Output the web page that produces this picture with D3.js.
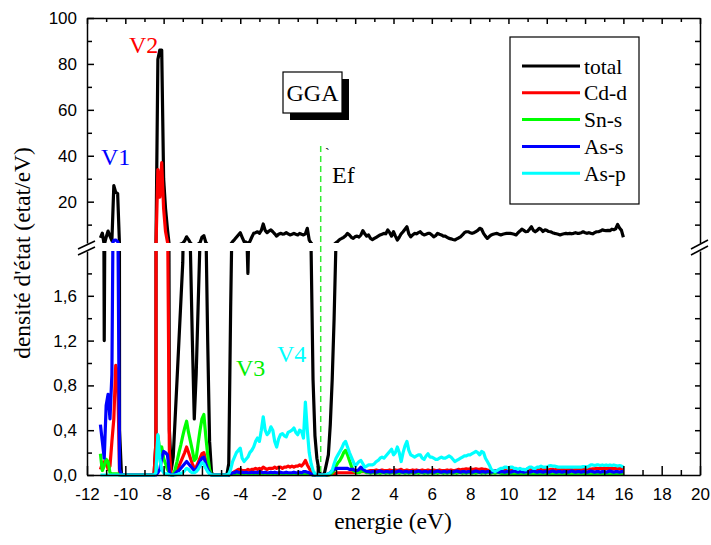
<!DOCTYPE html>
<html>
<head>
<meta charset="utf-8">
<script src="https://cdnjs.cloudflare.com/ajax/libs/d3/7.8.5/d3.min.js"></script>
<style>
  body { margin: 0; background: #fff; }
</style>
</head>
<body>
<div id="plot"></div>
<script>
// DOS data, energy grid from -11.3 to 16.0 eV (step 0.1)
const energy = d3.range(274).map(i => Math.round((-11.3 + i * 0.1) * 10) / 10);

const total = [
  4.2, 6.3, 1.2, 4.5, 7.2, 5.0, 3.0, 27, 24, 23.5,
  0.4, 0, 0, 0, 0, 0, 0, 0, 0, 0,
  0, 0, 0, 0, 0, 0, 0, 0, 0, 0.3,
  82, 86, 86, 30, 17, 8, 0.4, 0.05, 0.16, 0.5,
  0.85, 1.2, 1.55, 1.9, 3.0, 4.7, 3.5, 2.0, 1.2, 0.5,
  0.9, 1.5, 2.1, 4.5, 5.2, 2.3, 1.2, 0.3, 0.02, 0,
  0, 0, 0, 0, 0, 0, 0, 0.1, 1.5, 2.6,
  3.5, 4.5, 5.5, 6.5, 4.5, 2.6, 2.4, 1.8, 2.6, 4.5,
  6.2, 6.5, 6.9, 6.2, 7.5, 10.3, 7.5, 6.5, 7.2, 7.7,
  6.9, 6.0, 5.0, 5.8, 6.2, 5.9, 6.0, 6.5, 6.0, 5.5,
  5.8, 6.2, 5.8, 5.5, 6.2, 5.8, 5.5, 6.0, 8.4, 3.3,
  2.0, 0.85, 0.35, 0.15, 0.05, 0, 0, 0.02, 0.1, 0.18,
  0.45, 0.85, 1.4, 2.1, 2.8, 3.6, 4.0, 4.5, 5.2, 6.2,
  5.5, 4.5, 4.0, 4.8, 5.0, 4.6, 5.5, 7.4, 6.0, 5.0,
  5.5, 4.0, 3.5, 4.0, 4.5, 5.0, 5.5, 5.8, 6.2, 6.0,
  7.7, 6.5, 5.0, 6.9, 5.0, 3.3, 4.5, 6.0, 6.9, 8.0,
  9.1, 6.0, 4.7, 5.5, 6.2, 6.0, 6.5, 6.9, 6.0, 5.5,
  5.8, 6.2, 6.2, 5.5, 4.7, 5.2, 6.2, 5.8, 5.5, 5.0,
  5.0, 4.5, 4.0, 3.8, 3.5, 3.3, 3.8, 4.2, 4.7, 5.5,
  6.5, 6.9, 6.9, 6.5, 6.2, 6.5, 7.0, 7.5, 8.4, 8.0,
  6.2, 5.0, 4.0, 4.8, 5.5, 5.8, 6.0, 6.2, 5.8, 5.5,
  5.8, 6.0, 6.2, 6.2, 6.2, 6.0, 5.8, 5.5, 6.5, 7.2,
  8.0, 7.5, 6.9, 7.0, 8.0, 9.1, 7.5, 6.9, 7.5, 8.4,
  8.0, 7.0, 7.7, 7.5, 7.0, 6.9, 6.5, 6.2, 6.0, 5.8,
  5.5, 5.8, 6.0, 6.2, 6.0, 6.2, 6.0, 6.2, 6.5, 6.2,
  6.2, 6.5, 6.9, 6.5, 6.2, 6.5, 6.2, 6.0, 6.5, 6.9,
  6.9, 7.2, 7.7, 7.5, 7.4, 7.5, 7.4, 8.0, 7.8, 8.2,
  10.1, 8.5, 7.5, 4.5
];

const cdD = [
  0.05, 0.1, 0.12, 0.12, 0.05, 0.08, 0.3, 0.5, 0.98, 0.9,
  0, 0, 0, 0, 0, 0, 0, 0, 0, 0,
  0, 0, 0, 0, 0, 0, 0, 0, 0, 0.3,
  34, 22, 37, 17, 7, 2.5, 0.2, 0, 0, 0.02,
  0.05, 0.08, 0.12, 0.16, 0.2, 0.25, 0.2, 0.15, 0.1, 0.06,
  0.07, 0.11, 0.15, 0.19, 0.2, 0.13, 0.07, 0.02, 0, 0,
  0, 0, 0, 0, 0, 0, 0, 0, 0.01, 0.02,
  0.03, 0.04, 0.05, 0.05, 0.04, 0.04, 0.04, 0.05, 0.04, 0.05,
  0.05, 0.06, 0.05, 0.06, 0.05, 0.07, 0.06, 0.05, 0.06, 0.06,
  0.06, 0.07, 0.06, 0.07, 0.07, 0.06, 0.07, 0.07, 0.08, 0.07,
  0.08, 0.07, 0.08, 0.08, 0.09, 0.08, 0.1, 0.13, 0.09, 0.06,
  0.03, 0.01, 0, 0, 0, 0, 0, 0, 0, 0,
  0.005, 0.01, 0.01, 0.015, 0.02, 0.02, 0.02, 0.02, 0.02, 0.02,
  0.02, 0.02, 0.02, 0.02, 0.02, 0.03, 0.03, 0.03, 0.03, 0.03,
  0.035, 0.04, 0.04, 0.04, 0.045, 0.04, 0.04, 0.045, 0.04, 0.04,
  0.04, 0.045, 0.04, 0.04, 0.045, 0.04, 0.045, 0.05, 0.04, 0.04,
  0.045, 0.04, 0.04, 0.045, 0.04, 0.045, 0.04, 0.04, 0.045, 0.04,
  0.04, 0.045, 0.04, 0.04, 0.045, 0.04, 0.04, 0.045, 0.04, 0.04,
  0.04, 0.045, 0.04, 0.045, 0.04, 0.04, 0.045, 0.05, 0.045, 0.05,
  0.05, 0.055, 0.05, 0.055, 0.05, 0.05, 0.055, 0.05, 0.05, 0.055,
  0.05, 0.05, 0.045, 0.04, 0.035, 0.03, 0.035, 0.04, 0.04, 0.045,
  0.04, 0.045, 0.04, 0.045, 0.045, 0.04, 0.045, 0.045, 0.04, 0.045,
  0.045, 0.04, 0.045, 0.05, 0.045, 0.05, 0.045, 0.045, 0.05, 0.045,
  0.05, 0.045, 0.05, 0.05, 0.045, 0.05, 0.05, 0.045, 0.05, 0.05,
  0.045, 0.05, 0.05, 0.045, 0.05, 0.05, 0.05, 0.045, 0.05, 0.05,
  0.05, 0.05, 0.055, 0.05, 0.055, 0.055, 0.05, 0.055, 0.055, 0.06,
  0.055, 0.06, 0.055, 0.06, 0.06, 0.055, 0.06, 0.06, 0.055, 0.06,
  0.06, 0.055, 0.06, 0.05
];

const snS = [
  0.19, 0.04, 0.08, 0.14, 0.12, 0.02, 0.01, 0.01, 0.01, 0.01,
  0, 0, 0, 0, 0, 0, 0, 0, 0, 0,
  0, 0, 0, 0, 0, 0, 0, 0, 0, 0.02,
  0.35, 0.22, 0.25, 0.15, 0.1, 0.05, 0.02, 0, 0, 0.05,
  0.12, 0.2, 0.27, 0.35, 0.42, 0.48, 0.38, 0.3, 0.22, 0.13,
  0.15, 0.28, 0.4, 0.5, 0.54, 0.35, 0.18, 0.05, 0, 0,
  0, 0, 0, 0, 0, 0, 0, 0, 0.005, 0.005,
  0.005, 0.01, 0.005, 0.01, 0.005, 0.005, 0.01, 0.005, 0.01, 0.005,
  0.01, 0.005, 0.01, 0.005, 0.01, 0.01, 0.005, 0.01, 0.005, 0.01,
  0.005, 0.01, 0.005, 0.01, 0.005, 0.005, 0.01, 0.005, 0.01, 0.005,
  0.01, 0.005, 0.01, 0.005, 0.01, 0.01, 0.01, 0.01, 0.005, 0.005,
  0.005, 0, 0, 0, 0, 0, 0, 0, 0, 0,
  0.005, 0.02, 0.04, 0.08, 0.11, 0.13, 0.16, 0.2, 0.22, 0.18,
  0.13, 0.08, 0.04, 0.03, 0.02, 0.02, 0.03, 0.04, 0.03, 0.02,
  0.02, 0.015, 0.02, 0.02, 0.015, 0.02, 0.015, 0.02, 0.02, 0.015,
  0.02, 0.015, 0.02, 0.02, 0.015, 0.02, 0.015, 0.02, 0.02, 0.015,
  0.02, 0.015, 0.02, 0.02, 0.015, 0.02, 0.015, 0.02, 0.02, 0.015,
  0.02, 0.015, 0.02, 0.02, 0.015, 0.02, 0.015, 0.02, 0.02, 0.015,
  0.02, 0.015, 0.02, 0.02, 0.015, 0.02, 0.015, 0.02, 0.02, 0.015,
  0.02, 0.015, 0.02, 0.02, 0.015, 0.02, 0.015, 0.02, 0.02, 0.015,
  0.02, 0.015, 0.02, 0.02, 0.015, 0.02, 0.015, 0.02, 0.02, 0.015,
  0.01, 0.012, 0.01, 0.008, 0.01, 0.012, 0.01, 0.01, 0.008, 0.01,
  0.01, 0.012, 0.01, 0.008, 0.01, 0.012, 0.01, 0.01, 0.008, 0.01,
  0.01, 0.012, 0.01, 0.008, 0.01, 0.012, 0.01, 0.01, 0.008, 0.01,
  0.01, 0.012, 0.01, 0.008, 0.01, 0.012, 0.01, 0.01, 0.008, 0.01,
  0.01, 0.012, 0.01, 0.008, 0.01, 0.012, 0.01, 0.01, 0.008, 0.01,
  0.01, 0.012, 0.01, 0.008, 0.01, 0.012, 0.01, 0.01, 0.008, 0.01,
  0.01, 0.012, 0.01, 0.008
];

const asS = [
  0.45, 0.3, 0.15, 0.62, 0.72, 0.5, 0.9, 3.2, 3.3, 2.6,
  0.05, 0, 0, 0, 0, 0, 0, 0, 0, 0,
  0, 0, 0, 0, 0, 0, 0, 0, 0, 0,
  0.02, 0.05, 0.15, 0.21, 0.2, 0.18, 0.02, 0, 0, 0.01,
  0.03, 0.04, 0.06, 0.08, 0.1, 0.12, 0.1, 0.08, 0.06, 0.04,
  0.05, 0.08, 0.12, 0.15, 0.16, 0.1, 0.05, 0.02, 0, 0,
  0, 0, 0, 0, 0, 0, 0, 0, 0.01, 0.02,
  0.02, 0.03, 0.025, 0.02, 0.025, 0.02, 0.025, 0.02, 0.02, 0.025,
  0.02, 0.025, 0.02, 0.03, 0.025, 0.02, 0.025, 0.02, 0.02, 0.025,
  0.02, 0.025, 0.02, 0.02, 0.025, 0.02, 0.02, 0.025, 0.02, 0.02,
  0.02, 0.025, 0.02, 0.02, 0.025, 0.02, 0.03, 0.03, 0.025, 0.02,
  0.01, 0, 0, 0, 0, 0, 0, 0, 0, 0.01,
  0.02, 0.04, 0.05, 0.06, 0.06, 0.06, 0.06, 0.06, 0.06, 0.06,
  0.05, 0.05, 0.05, 0.04, 0.04, 0.05, 0.07, 0.05, 0.04, 0.03,
  0.03, 0.025, 0.03, 0.03, 0.025, 0.03, 0.035, 0.03, 0.025, 0.03,
  0.03, 0.025, 0.03, 0.03, 0.025, 0.03, 0.035, 0.03, 0.025, 0.03,
  0.03, 0.025, 0.03, 0.03, 0.025, 0.03, 0.035, 0.03, 0.025, 0.03,
  0.03, 0.025, 0.03, 0.03, 0.025, 0.03, 0.035, 0.03, 0.025, 0.03,
  0.03, 0.025, 0.03, 0.03, 0.025, 0.03, 0.035, 0.03, 0.025, 0.03,
  0.03, 0.025, 0.03, 0.03, 0.025, 0.03, 0.035, 0.03, 0.025, 0.03,
  0.03, 0.025, 0.03, 0.03, 0.025, 0.03, 0.035, 0.03, 0.025, 0.03,
  0.03, 0.025, 0.03, 0.03, 0.025, 0.03, 0.035, 0.03, 0.025, 0.03,
  0.03, 0.025, 0.03, 0.03, 0.025, 0.03, 0.035, 0.03, 0.025, 0.03,
  0.03, 0.025, 0.03, 0.03, 0.025, 0.03, 0.035, 0.03, 0.025, 0.03,
  0.03, 0.025, 0.03, 0.03, 0.025, 0.03, 0.035, 0.03, 0.025, 0.03,
  0.03, 0.025, 0.03, 0.03, 0.025, 0.03, 0.035, 0.03, 0.025, 0.03,
  0.03, 0.025, 0.03, 0.03, 0.025, 0.03, 0.035, 0.03, 0.025, 0.03,
  0.03, 0.025, 0.03, 0.03
];

const asP = [
  0, 0, 0, 0, 0, 0, 0, 0, 0, 0,
  0, 0, 0, 0, 0, 0, 0, 0, 0, 0,
  0, 0, 0, 0, 0, 0, 0, 0, 0, 0.02,
  0.36, 0.15, 0.05, 0.02, 0.01, 0.01, 0, 0, 0, 0,
  0.005, 0.01, 0.015, 0.02, 0.04, 0.06, 0.05, 0.03, 0.02, 0.02,
  0.03, 0.05, 0.08, 0.11, 0.1, 0.06, 0.03, 0.01, 0, 0,
  0, 0, 0, 0, 0, 0, 0, 0.01, 0.05, 0.12,
  0.16, 0.2, 0.22, 0.24, 0.15, 0.12, 0.14, 0.16, 0.2, 0.22,
  0.25, 0.3, 0.33, 0.3, 0.4, 0.52, 0.4, 0.36, 0.38, 0.43,
  0.4, 0.3, 0.25, 0.32, 0.36, 0.37, 0.35, 0.34, 0.38, 0.39,
  0.4, 0.42, 0.38, 0.36, 0.4, 0.39, 0.33, 0.65, 0.4, 0.2,
  0.1, 0.04, 0.01, 0, 0, 0, 0, 0, 0.005, 0.01,
  0.02, 0.04, 0.1, 0.15, 0.18, 0.21, 0.24, 0.28, 0.3, 0.25,
  0.2, 0.16, 0.12, 0.08, 0.1, 0.12, 0.13, 0.1, 0.07, 0.08,
  0.09, 0.09, 0.09, 0.1, 0.12, 0.13, 0.15, 0.16, 0.15, 0.17,
  0.19, 0.21, 0.23, 0.18, 0.2, 0.25, 0.2, 0.12, 0.2, 0.26,
  0.3, 0.22, 0.18, 0.17, 0.16, 0.17, 0.18, 0.18, 0.15, 0.14,
  0.17, 0.19, 0.16, 0.16, 0.15, 0.14, 0.14, 0.15, 0.16, 0.15,
  0.15, 0.16, 0.17, 0.16, 0.14, 0.12, 0.13, 0.14, 0.15, 0.16,
  0.17, 0.17, 0.18, 0.18, 0.19, 0.2, 0.21, 0.2, 0.18, 0.21,
  0.2, 0.15, 0.12, 0.09, 0.05, 0.04, 0.03, 0.04, 0.05, 0.06,
  0.06, 0.07, 0.07, 0.06, 0.07, 0.07, 0.06, 0.06, 0.05, 0.06,
  0.05, 0.05, 0.045, 0.06, 0.07, 0.07, 0.06, 0.06, 0.07, 0.07,
  0.08, 0.07, 0.07, 0.07, 0.08, 0.085, 0.08, 0.08, 0.075, 0.07,
  0.07, 0.07, 0.07, 0.07, 0.07, 0.07, 0.07, 0.07, 0.07, 0.07,
  0.07, 0.07, 0.075, 0.075, 0.07, 0.08, 0.09, 0.09, 0.085, 0.09,
  0.09, 0.085, 0.09, 0.085, 0.09, 0.085, 0.09, 0.085, 0.09, 0.085,
  0.08, 0.085, 0.08, 0.07
];

const seriesNames = ["total", "Cd-d", "Sn-s", "As-s", "As-p"];
const seriesColors = ["#000000", "#ff0000", "#00ff00", "#0000ff", "#00ffff"];
const seriesValues = [total, cdD, snS, asS, asP];

const xTicks = d3.range(-12, 21, 2);
const topTicks = [20, 40, 60, 80, 100];
const botTicks = [0, 0.4, 0.8, 1.2, 1.6];

const w = 711;
const h = 545;
const left = 87, right = 700;
const topPanel = [18, 243];   // y pixels of upper panel (top, bottom)
const botPanel = [251, 475];  // y pixels of lower panel

const SERIF = "'Liberation Serif', 'Times New Roman', Times, serif";
const SANS = "'Liberation Sans', Arial, Helvetica, sans-serif";

const svg = d3.select("#plot").append("svg")
  .attr("width", w)
  .attr("height", h);

svg.append("rect").attr("width", w).attr("height", h).attr("fill", "#fff");

const x = d3.scaleLinear().domain([-12, 20]).range([left, right]);
const yTop = d3.scaleLinear().domain([2, 100]).range([topPanel[1], topPanel[0]]);
const yBot = d3.scaleLinear().domain([0, 2]).range([botPanel[1], botPanel[0]]);

// clip paths for the two panels
const defs = svg.append("defs");
defs.append("clipPath").attr("id", "clipTop").append("rect")
  .attr("x", left).attr("y", topPanel[0])
  .attr("width", right - left).attr("height", topPanel[1] - topPanel[0]);
defs.append("clipPath").attr("id", "clipBot").append("rect")
  .attr("x", left).attr("y", botPanel[0])
  .attr("width", right - left).attr("height", botPanel[1] - botPanel[0] + 3);

const series = seriesNames.map((name, k) => ({
  name: name,
  color: seriesColors[k],
  points: energy.map((e, i) => ({e: e, v: seriesValues[k][i]}))
}));

const lineTop = d3.line().x(d => x(d.e)).y(d => yTop(d.v));
const lineBot = d3.line().x(d => x(d.e)).y(d => yBot(d.v));

const gTop = svg.append("g").attr("clip-path", "url(#clipTop)");
const gBot = svg.append("g").attr("clip-path", "url(#clipBot)");

series.forEach(s => {
  gTop.append("path").datum(s.points)
    .attr("d", lineTop)
    .attr("fill", "none").attr("stroke", s.color)
    .attr("stroke-width", 3.2).attr("stroke-linejoin", "round");
  gBot.append("path").datum(s.points)
    .attr("d", lineBot)
    .attr("fill", "none").attr("stroke", s.color)
    .attr("stroke-width", 3.2).attr("stroke-linejoin", "round");
});

// Fermi level
svg.append("line")
  .attr("x1", x(0.2)).attr("x2", x(0.2))
  .attr("y1", 146).attr("y2", botPanel[1])
  .attr("stroke", "#33ee33").attr("stroke-width", 1.5)
  .attr("stroke-dasharray", "6,4");

// axes
const fmtComma = d => d3.format(".1f")(d).replace(".", ",");

function styleAxis(g) {
  g.attr("font-family", SANS).attr("font-size", 17);
  g.selectAll(".domain").attr("stroke", "#000").attr("stroke-width", 1.5);
  g.selectAll(".tick line").attr("stroke", "#000").attr("stroke-width", 1.5);
  g.selectAll(".tick text").attr("fill", "#000");
}

svg.append("g")
  .attr("transform", `translate(0, ${botPanel[1]})`)
  .call(d3.axisBottom(x).tickValues(xTicks).tickSizeInner(-9).tickSizeOuter(0).tickPadding(13)
    .tickFormat(d => String(d)))
  .call(styleAxis);
svg.append("g")
  .attr("transform", `translate(0, ${botPanel[1]})`)
  .call(d3.axisBottom(x).tickValues(d3.range(-11, 20, 2)).tickSize(-5).tickFormat(""))
  .call(g => g.select(".domain").remove())
  .call(styleAxis);

svg.append("g")
  .attr("transform", `translate(0, ${topPanel[0]})`)
  .call(d3.axisTop(x).tickValues(xTicks).tickSizeInner(-6).tickSizeOuter(0).tickFormat(""))
  .call(styleAxis);
svg.append("g")
  .attr("transform", `translate(0, ${topPanel[0]})`)
  .call(d3.axisTop(x).tickValues(d3.range(-11, 20, 2)).tickSize(-4).tickFormat(""))
  .call(g => g.select(".domain").remove())
  .call(styleAxis);

// left / right, upper panel
svg.append("g")
  .attr("transform", `translate(${left}, 0)`)
  .call(d3.axisLeft(yTop).tickValues(topTicks).tickSizeInner(-7).tickSizeOuter(0).tickPadding(10))
  .call(styleAxis);
svg.append("g")
  .attr("transform", `translate(${left}, 0)`)
  .call(d3.axisLeft(yTop).tickValues([10, 30, 50, 70, 90]).tickSize(-5).tickFormat(""))
  .call(g => g.select(".domain").remove())
  .call(styleAxis);
svg.append("g")
  .attr("transform", `translate(${right}, 0)`)
  .call(d3.axisRight(yTop).tickValues(d3.range(10, 100, 10)).tickSize(-5).tickSizeOuter(0).tickFormat(""))
  .call(styleAxis);

// left / right, lower panel
svg.append("g")
  .attr("transform", `translate(${left}, 0)`)
  .call(d3.axisLeft(yBot).tickValues(botTicks).tickSizeInner(-7).tickSizeOuter(0).tickPadding(10).tickFormat(fmtComma))
  .call(styleAxis);
svg.append("g")
  .attr("transform", `translate(${left}, 0)`)
  .call(d3.axisLeft(yBot).tickValues([0.2, 0.6, 1.0, 1.4, 1.8]).tickSize(-5).tickFormat(""))
  .call(g => g.select(".domain").remove())
  .call(styleAxis);
svg.append("g")
  .attr("transform", `translate(${right}, 0)`)
  .call(d3.axisRight(yBot).tickValues(d3.range(0.2, 1.9, 0.2)).tickSize(-5).tickSizeOuter(0).tickFormat(""))
  .call(styleAxis);

// axis break marks
const breaks = [
  [left - 9, 249, left + 8, 241], [left - 9, 255, left + 8, 247],
  [right - 9, 249, right + 8, 240], [right - 9, 255, right + 8, 246]
];
svg.append("g").selectAll("line")
  .data(breaks)
  .enter().append("line")
  .attr("x1", d => d[0]).attr("y1", d => d[1])
  .attr("x2", d => d[2]).attr("y2", d => d[3])
  .attr("stroke", "#000").attr("stroke-width", 1.5);

// axis titles
svg.append("text")
  .attr("font-family", SERIF)
  .attr("x", 393).attr("y", 529)
  .attr("text-anchor", "middle").attr("font-size", 23.5)
  .text("energie (eV)");
svg.append("text")
  .attr("font-family", SERIF)
  .attr("transform", "translate(30, 253) rotate(-90)")
  .attr("text-anchor", "middle").attr("font-size", 23.5)
  .text("densité d'état (etat/eV)");

// peak labels
const peakLabels = [
  {t: "V1", x: 101, y: 165, c: "#0000ff"},
  {t: "V2", x: 129, y: 53, c: "#ff0000"},
  {t: "V3", x: 236, y: 376, c: "#00ee00"},
  {t: "V4", x: 277, y: 362, c: "#00ffff"}
];
svg.append("g").selectAll("text")
  .data(peakLabels)
  .enter().append("text")
  .attr("font-family", SERIF)
  .attr("x", d => d.x).attr("y", d => d.y)
  .attr("font-size", 24)
  .attr("fill", d => d.c)
  .text(d => d.t);

svg.append("text").attr("font-family", SERIF)
  .attr("x", 332).attr("y", 183).attr("font-size", 24).text("Ef");
svg.append("text").attr("font-family", SERIF)
  .attr("x", 325).attr("y", 158).attr("font-size", 14).text("`");

// GGA box with shadow
svg.append("rect").attr("x", 290).attr("y", 79).attr("width", 59).attr("height", 41).attr("fill", "#000");
svg.append("rect").attr("x", 283).attr("y", 72).attr("width", 59).attr("height", 41)
  .attr("fill", "#fff").attr("stroke", "#000").attr("stroke-width", 1.2);
svg.append("text").attr("font-family", SERIF)
  .attr("x", 312.5).attr("y", 101).attr("text-anchor", "middle")
  .attr("font-size", 24).text("GGA");

// legend
const legend = svg.append("g");
legend.append("rect")
  .attr("x", 510).attr("y", 37).attr("width", 129).attr("height", 167)
  .attr("fill", "#fff").attr("stroke", "#000").attr("stroke-width", 1.2);
const items = legend.selectAll("g.item")
  .data(series)
  .enter().append("g").attr("class", "item")
  .attr("transform", (d, i) => `translate(0, ${66 + i * 26.8})`);
items.append("line")
  .attr("x1", 522).attr("x2", 580).attr("y1", 0).attr("y2", 0)
  .attr("stroke", d => d.color).attr("stroke-width", 3);
items.append("text").attr("font-family", SERIF)
  .attr("x", 584).attr("y", 7.5).attr("font-size", 21.5)
  .text(d => d.name);
</script>
</body>
</html>
